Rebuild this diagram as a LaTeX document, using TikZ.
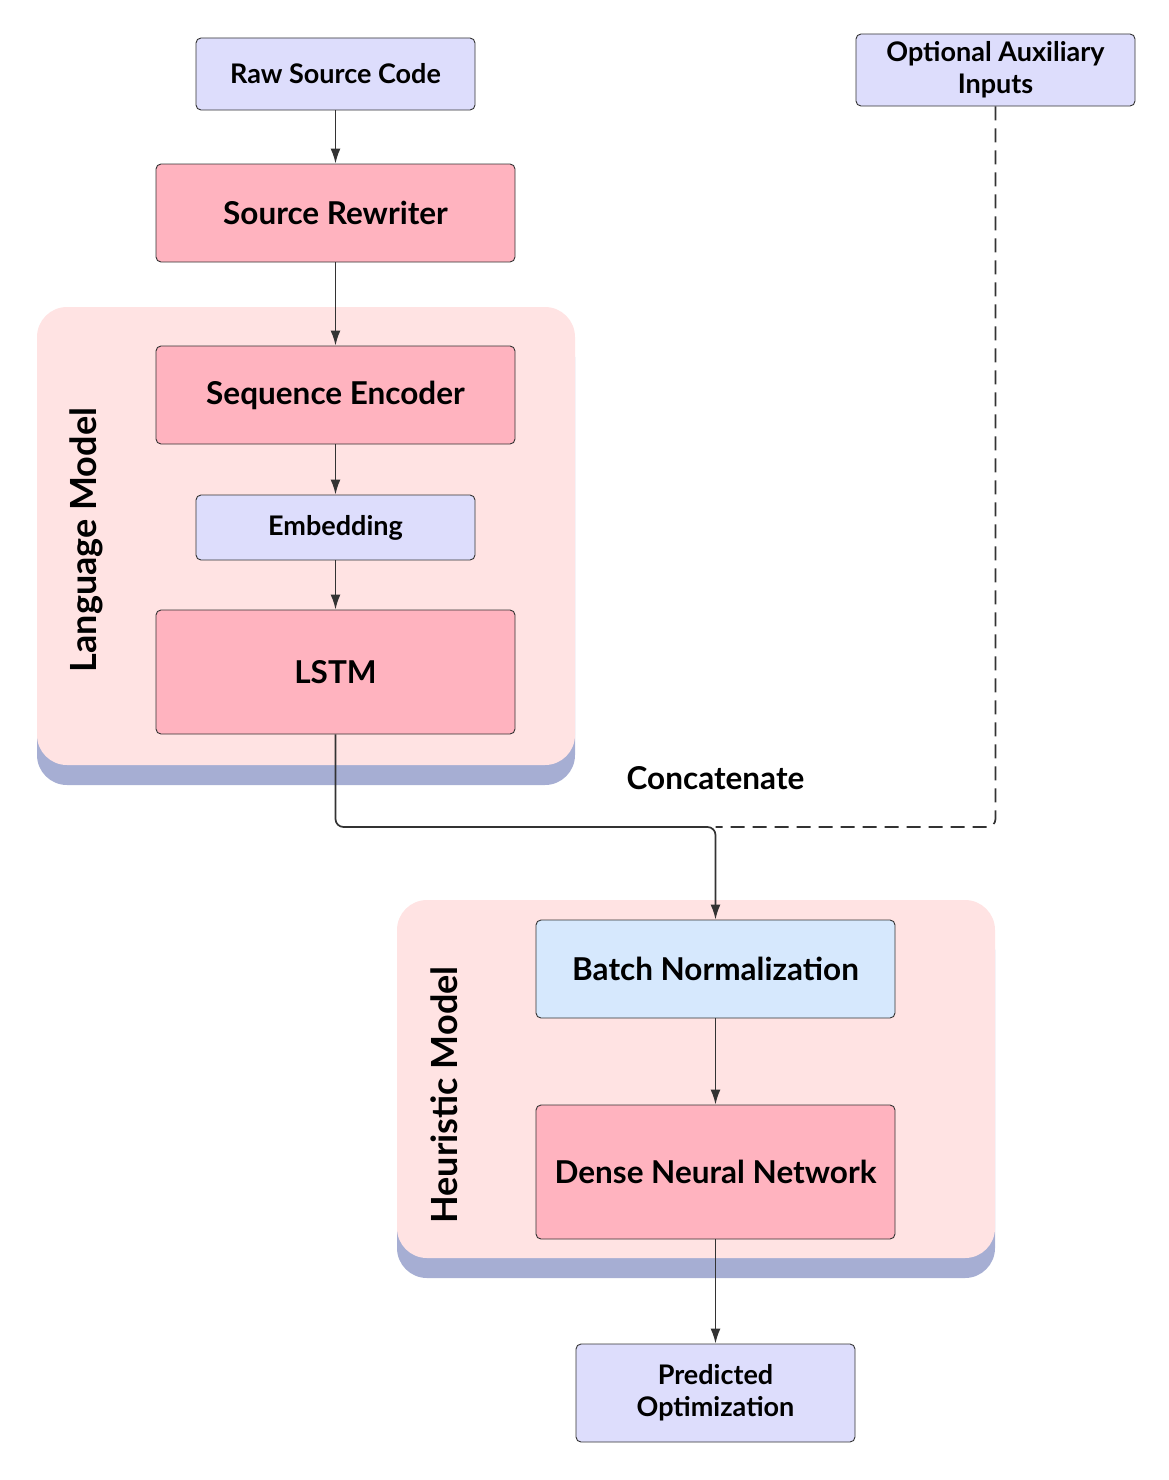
\documentclass[tikz,border=0pt]{standalone}
\usepackage{fontspec}
\setmainfont{Lato}
\usetikzlibrary{arrows.meta, positioning}

\definecolor{lavender}{HTML}{DDDDFC}
\definecolor{rosebox}{HTML}{FFB3BF}
\definecolor{skybox}{HTML}{D6E8FD}
\definecolor{grouppink}{HTML}{FFE3E3}
\definecolor{groupshade}{HTML}{A6AED3}
\definecolor{edgegray}{HTML}{333333}

\tikzset{
	blk/.style={draw=edgegray, line width=0.9pt, rounded corners=5pt, align=center, inner sep=0pt},
	inbox/.style={blk, fill=lavender, minimum width=279pt, minimum height=72pt, font=\bfseries\fontsize{27}{32}\selectfont},
	layerbox/.style={blk, fill=rosebox, minimum width=359pt, minimum height=98pt, font=\bfseries\fontsize{31.5}{36}\selectfont},
	normbox/.style={layerbox, fill=skybox},
	arr/.style={draw=edgegray, line width=1.7pt, -{Latex[length=15pt, width=10pt]}},
	grouptitle/.style={rotate=90, font=\bfseries\fontsize{36}{40}\selectfont}
}

\begin{document}
\begin{tikzpicture}[x=1pt, y=-1pt]
		\useasboundingbox (0, 0) rectangle (1169, 1480);
		% groups
		\fill[groupshade, rounded corners=30pt] (37, 327) rectangle (575, 785);
		\fill[grouppink, rounded corners=30pt] (37, 307) rectangle (575, 765);
		\fill[groupshade, rounded corners=30pt] (397, 920) rectangle (995, 1278);
		\fill[grouppink, rounded corners=30pt] (397, 900) rectangle (995, 1258);
		\node[grouptitle] (lmtitle) at (86, 540) {Language Model};
		\node[grouptitle] (hmtitle) at (444, 1095) {Heuristic Model};

		% boxes
		\node[inbox] (raw) at (335.5, 74) {Raw Source Code};
		\node[layerbox] (rewriter) at (335.5, 213) {Source Rewriter};
		\node[layerbox] (encoder) at (335.5, 395) {Sequence Encoder};
		\node[inbox, minimum height=65pt] (embed) at (335.5, 527.5) {Embedding};
		\node[layerbox, minimum height=124pt] (lstm) at (335.5, 672) {LSTM};
		\node[inbox] (aux) at (995.5, 70) {Optional Auxiliary\\Inputs};
		\node[normbox] (batch) at (715.5, 969) {Batch Normalization};
		\node[layerbox, minimum height=134pt] (dense) at (715.5, 1172) {Dense Neural Network};
		\node[inbox, minimum height=98pt] (pred) at (715.5, 1393) {Predicted\\Optimization};
		\node[font=\bfseries\fontsize{31.5}{36}\selectfont] (concat) at (715.5, 778) {Concatenate};
		\coordinate (join) at (715.5, 827);

		% edges
		\draw[arr] (raw) -- (rewriter);
		\draw[arr] (rewriter) -- (encoder);
		\draw[arr] (encoder) -- (embed);
		\draw[arr] (embed) -- (lstm);
		\draw[arr, rounded corners=8pt] (lstm.south) |- (join) -- (batch.north);
		\draw[draw=edgegray, line width=1.7pt, dash pattern=on 14pt off 8pt, rounded corners=8pt] (aux.south) |- (join);
		\draw[arr] (batch) -- (dense);
		\draw[arr] (dense) -- (pred);
	\end{tikzpicture}
\end{document}
